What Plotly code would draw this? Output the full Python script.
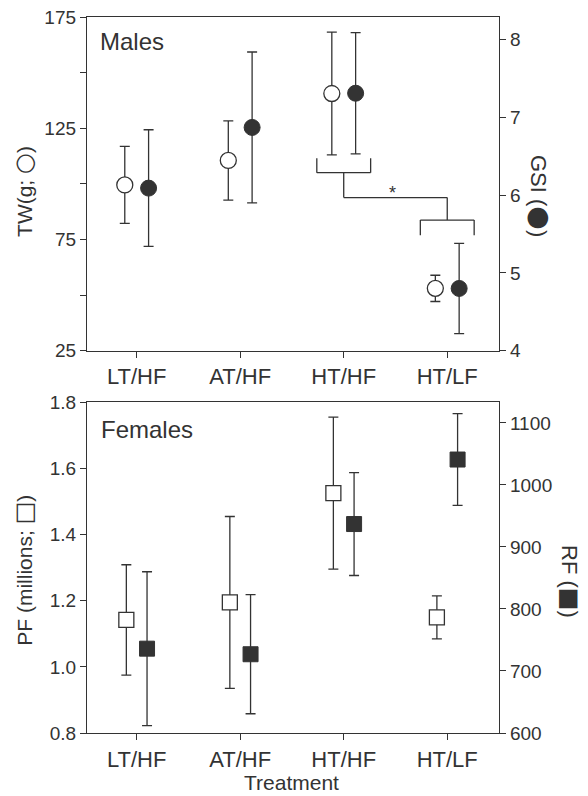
import plotly.graph_objects as go

categories = ["LT/HF", "AT/HF", "HT/HF", "HT/LF"]

# Males
tw_mean = [99.5, 110.5, 140.6, 53.0]
tw_err = [17.3, 17.8, 27.6, 5.9]
gsi_mean = [6.09, 6.87, 7.31, 4.80]
gsi_err = [0.75, 0.97, 0.78, 0.58]

# Females
pf_mean = [1.142, 1.195, 1.526, 1.150]
pf_err = [0.167, 0.26, 0.23, 0.065]
rf_mean = [736, 727, 937, 1041]
rf_err = [124, 96, 83, 74]

tw_ticks = [25, 50, 75, 100, 125, 150, 175]
tw_labels = ["25", "", "75", "", "125", "", "175"]
gsi_ticks = [4, 5, 6, 7, 8]
pf_ticks = [0.8, 1.0, 1.2, 1.4, 1.6, 1.8]
rf_ticks = [600, 700, 800, 900, 1000, 1100]

INK = "#333333"
FONT = "Liberation Sans, Arial, sans-serif"
off_m = 0.115
off_f = 0.10

idx = list(range(len(categories)))

def shifted(d):
    return [i + d for i in idx]

def glyph(ch, size):
    return f'<span style="font-family:DejaVu Sans;font-size:{size}px">{ch}</span>'

fig = go.Figure()

def eb(arr):
    return dict(type="data", array=arr, width=5, thickness=1.3, color=INK)

fig.add_trace(go.Scatter(x=shifted(-off_m), y=tw_mean, error_y=eb(tw_err), mode="markers",
                         marker=dict(symbol="circle", size=16, color="white", line=dict(color=INK, width=1.3)),
                         xaxis="x", yaxis="y", showlegend=False))
fig.add_trace(go.Scatter(x=shifted(off_m), y=gsi_mean, error_y=eb(gsi_err), mode="markers",
                         marker=dict(symbol="circle", size=16, color=INK, line=dict(color=INK, width=1)),
                         xaxis="x", yaxis="y2", showlegend=False))
fig.add_trace(go.Scatter(x=shifted(-off_f), y=pf_mean, error_y=eb(pf_err), mode="markers",
                         marker=dict(symbol="square", size=15, color="white", line=dict(color=INK, width=1.3)),
                         xaxis="x2", yaxis="y3", showlegend=False))
fig.add_trace(go.Scatter(x=shifted(off_f), y=rf_mean, error_y=eb(rf_err), mode="markers",
                         marker=dict(symbol="square", size=15, color=INK, line=dict(color=INK, width=1)),
                         xaxis="x2", yaxis="y4", showlegend=False))

# significance brackets (in TW data units, positions from category indices)
a, b = idx[2], idx[3]
half = 0.26
top_y, top_leg = 105.0, 111.5
mid_y = 93.8
low_y, low_leg = 83.7, 76.9
line = dict(color=INK, width=1.3)
segs = [
    (a - half, top_leg, a - half, top_y), (a - half, top_y, a + half, top_y), (a + half, top_y, a + half, top_leg),
    (a, top_y, a, mid_y), (a, mid_y, b, mid_y), (b, mid_y, b, low_y),
    (b - half, low_leg, b - half, low_y), (b - half, low_y, b + half, low_y), (b + half, low_y, b + half, low_leg),
]
for x0, y0, x1, y1 in segs:
    fig.add_shape(type="line", xref="x", yref="y", x0=x0, y0=y0, x1=x1, y1=y1, line=line)

ann = [
    dict(text="*", x=(a + b) / 2 - 0.03, y=mid_y + 2.0, xref="x", yref="y", font=dict(size=18)),
    dict(text="Males", x=0.027, y=0.926, xref="x domain", yref="y domain", xanchor="left", font=dict(size=24)),
    dict(text="Females", x=0.029, y=0.917, xref="x2 domain", yref="y3 domain", xanchor="left", font=dict(size=24)),
    dict(text="TW(g; " + glyph("○", 24) + ")", x=-0.153, y=0.757, xref="paper", yref="paper", textangle=-90, font=dict(size=21)),
    dict(text="PF (millions; " + glyph("□", 24) + ")", x=-0.153, y=0.228, xref="paper", yref="paper", textangle=-90, font=dict(size=21)),
    dict(text="GSI (" + glyph("●", 27) + ")", x=1.102, y=0.75, xref="paper", yref="paper", textangle=90, font=dict(size=22)),
    dict(text="RF (" + glyph("■", 24) + ")", x=1.172, y=0.211, xref="paper", yref="paper", textangle=90, font=dict(size=22)),
    dict(text="Treatment", x=0.496, y=-0.088, xref="paper", yref="paper", yanchor="bottom", font=dict(size=21)),
]
for an in ann:
    an.setdefault("showarrow", False)
    an.setdefault("xanchor", "center")
    an.setdefault("yanchor", "middle")
    an["font"].update(family=FONT, color=INK)
    fig.add_annotation(**an)

axcommon = dict(showline=True, linecolor=INK, linewidth=1.3, ticks="outside", ticklen=6,
                tickcolor=INK, tickwidth=1.3, showgrid=False, zeroline=False, automargin=False,
                ticklabeloverflow="allow")
xcommon = dict(axcommon, range=[-0.48, 3.5], tickvals=idx, ticktext=categories, mirror=True,
               tickfont=dict(size=22, family=FONT, color=INK))
ycommon = dict(axcommon, tickfont=dict(size=19, family=FONT, color=INK))

# page body keeps an 8px default margin, so the plot area is offset by that amount
fig.update_layout(
    width=588, height=796,
    margin=dict(l=79, r=97, t=9, b=71),
    paper_bgcolor="white", plot_bgcolor="white",
    font=dict(family=FONT, color=INK),
    xaxis=dict(xcommon, anchor="y", domain=[0, 1]),
    xaxis2=dict(xcommon, anchor="y3", domain=[0, 1]),
    yaxis=dict(ycommon, domain=[0.534, 1], range=[25, 175], tickvals=tw_ticks, ticktext=tw_labels),
    yaxis2=dict(ycommon, overlaying="y", side="right", anchor="x", range=[4, 8.29], tickvals=gsi_ticks),
    yaxis3=dict(ycommon, domain=[0, 0.4616], range=[0.8, 1.8], tickvals=pf_ticks, tickformat=".1f", anchor="x2"),
    yaxis4=dict(ycommon, overlaying="y3", side="right", anchor="x2", range=[600, 1133], tickvals=rf_ticks),
)

fig.write_html("out.html")
